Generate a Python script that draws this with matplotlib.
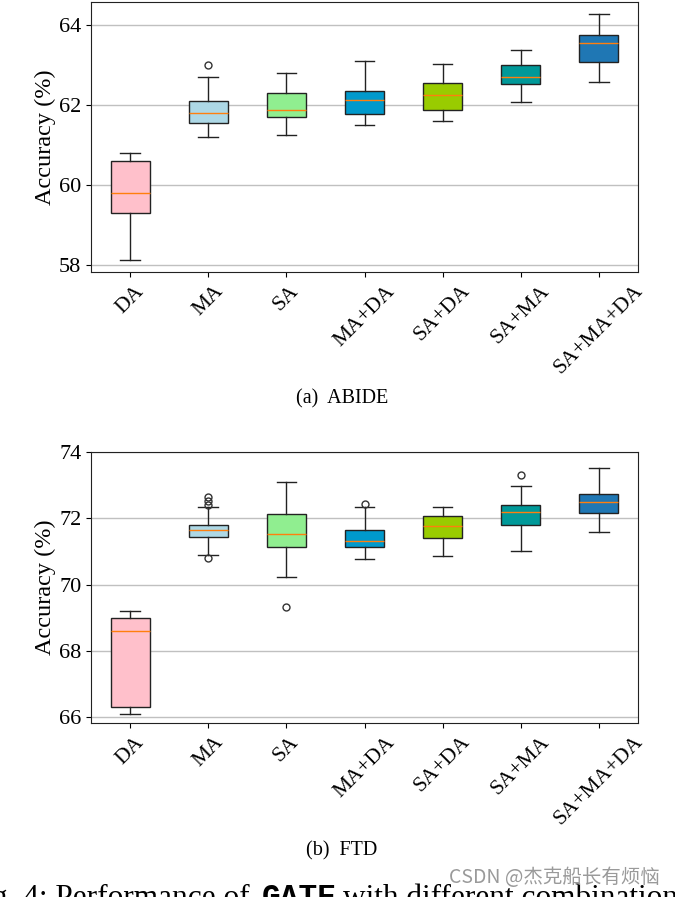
import matplotlib
matplotlib.use("Agg")
import matplotlib.pyplot as plt

plt.rcParams['font.family'] = ['Liberation Serif', 'DejaVu Serif']

labels = ['DA', 'MA', 'SA', 'MA+DA', 'SA+DA', 'SA+MA', 'SA+MA+DA']
colors = ['#FFC0CB', '#ADD8E6', '#90EE90', '#0099CC', '#99CC00', '#009999', '#1F77B4']

# ABIDE: whisker low, Q1, median, Q3, whisker high
abide_lo = [58.13, 61.21, 61.24, 61.51, 61.59, 62.08, 62.58]
abide_q1 = [59.30, 61.56, 61.71, 61.78, 61.88, 62.53, 63.08]
abide_med = [59.79, 61.81, 61.88, 62.13, 62.26, 62.71, 63.55]
abide_q3 = [60.61, 62.11, 62.31, 62.36, 62.56, 63.00, 63.75]
abide_hi = [60.81, 62.71, 62.81, 63.10, 63.03, 63.38, 64.27]
abide_fliers = [[], [62.99], [], [], [], [], []]

# FTD
ftd_lo = [66.09, 70.88, 70.22, 70.76, 70.85, 71.01, 71.58]
ftd_q1 = [66.30, 71.43, 71.13, 71.13, 71.40, 71.79, 72.15]
ftd_med = [68.59, 71.64, 71.52, 71.31, 71.76, 72.18, 72.48]
ftd_q3 = [68.99, 71.79, 72.12, 71.64, 72.06, 72.39, 72.72]
ftd_hi = [69.20, 72.33, 73.09, 72.33, 72.33, 72.96, 73.51]
ftd_fliers = [[], [70.80, 72.41, 72.53, 72.65], [69.33], [72.44], [], [73.32], []]


def make_stats(lo, q1, med, q3, hi, fl):
    return [dict(label=l, whislo=a, q1=b, med=c, q3=d, whishi=e, fliers=f)
            for l, a, b, c, d, e, f in zip(labels, lo, q1, med, q3, hi, fl)]


def draw(ax, stats, ylim):
    bp = ax.bxp(stats, patch_artist=True, widths=0.5,
                boxprops=dict(edgecolor='#222222', linewidth=1.0),
                whiskerprops=dict(color='#222222', linewidth=1.0),
                capprops=dict(color='#222222', linewidth=1.0),
                medianprops=dict(color='#FF7F0E', linewidth=1.0),
                flierprops=dict(marker='o', markerfacecolor='none',
                                markeredgecolor='#333333', markersize=5))
    for patch, c in zip(bp['boxes'], colors):
        patch.set_facecolor(c)
    ax.set_ylim(*ylim)
    ax.yaxis.grid(True, color='#C0C0C0', linewidth=1.0)
    ax.set_axisbelow(True)
    ax.set_ylabel('Accuracy (%)', fontsize=17.5, labelpad=2)
    ax.tick_params(axis='y', labelsize=16)
    ax.tick_params(axis='x', labelsize=15.5)
    plt.setp(ax.get_xticklabels(), rotation=45)
    for s in ax.spines.values():
        s.set_color('#222222')


fig = plt.figure(figsize=(6.75, 8.97), dpi=100)
W, H = 675, 897
ax1 = fig.add_axes([91 / W, 1 - 272 / H, 547 / W, 270 / H])
ax2 = fig.add_axes([91 / W, 1 - 723 / H, 547 / W, 271 / H])

draw(ax1, make_stats(abide_lo, abide_q1, abide_med, abide_q3, abide_hi, abide_fliers), (57.83, 64.57))
draw(ax2, make_stats(ftd_lo, ftd_q1, ftd_med, ftd_q3, ftd_hi, ftd_fliers), (65.82, 73.99))
ax1.set_yticks([58, 60, 62, 64])
ax2.set_yticks([66, 68, 70, 72, 74])

fig.text(342 / W, 1 - 399 / H, '(a)  ABIDE', ha='center', va='center', fontsize=14.5)
fig.text(342 / W, 1 - 851 / H, '(b)  FTD', ha='center', va='center', fontsize=14.5)

# truncated figure caption at the bottom edge
base = 1 - 905.5 / H
fig.text(250 / W, base, 'Fig. 4: Performance of', ha='right', va='baseline', fontsize=22.5)
fig.text(262 / W, base, 'GATE', ha='left', va='baseline', fontsize=22.5,
         family='Liberation Mono', weight='bold')
fig.text(343 / W, base, 'with different combinations', ha='left', va='baseline', fontsize=22.5)

fig.text(660 / W, 1 - 877 / H, 'CSDN @杰克船长有烦恼', ha='right', va='center', fontsize=14,
         color='#9a9a9a', family=['Noto Sans CJK SC', 'DejaVu Sans'], zorder=10)

fig.savefig('out.png', dpi=100)
